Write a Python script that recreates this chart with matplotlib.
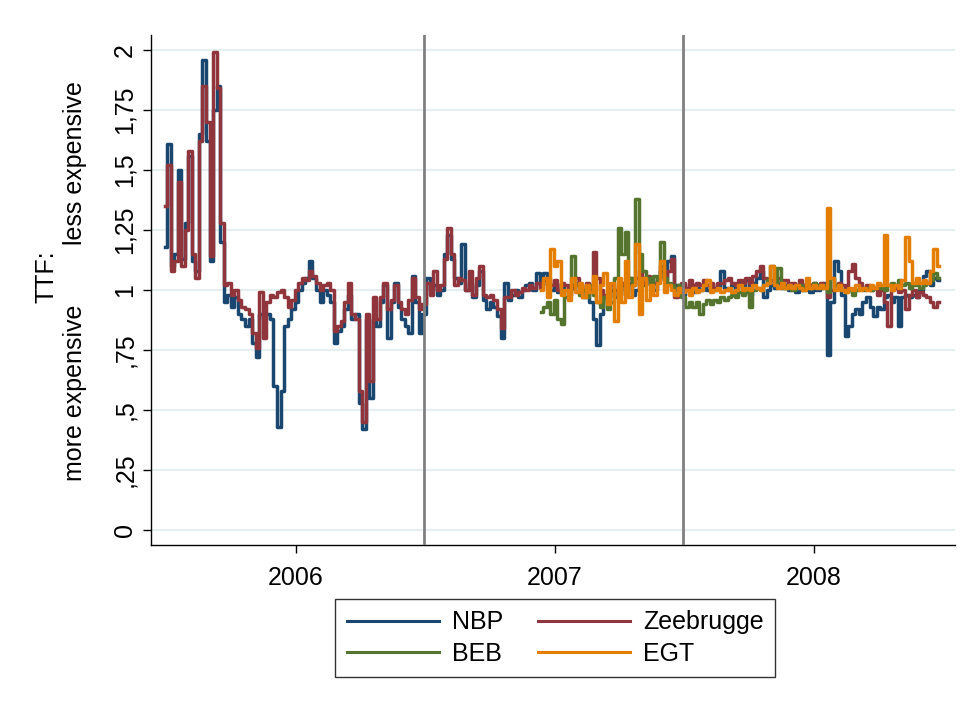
import matplotlib
matplotlib.use("Agg")
import matplotlib.pyplot as plt
import pandas as pd

plt.rcParams['font.family'] = ['Liberation Sans', 'DejaVu Sans']

# ---- data (ratio of hub price to TTF), 5-day sampling ----
start_all = "2005-07-01"
start_new = "2006-12-13"

nbp = [
 1.18, 1.61, 1.10, 1.15, 1.50, 1.13, 1.28, 1.56, 1.12, 1.08,
 1.65, 1.96, 1.62, 1.12, 1.75, 1.85, 1.20, 0.95, 0.98, 0.93,
 0.97, 0.90, 0.88, 0.85, 0.88, 0.78, 0.72, 0.90, 0.88, 0.90,
 0.88, 0.60, 0.43, 0.58, 0.85, 0.88, 0.92, 0.95, 1.00, 1.03,
 1.05, 1.12, 1.05, 1.00, 0.95, 1.00, 0.98, 0.95, 0.78, 0.83,
 0.85, 0.92, 0.98, 0.88, 0.90, 0.53, 0.42, 0.88, 0.55, 0.88,
 0.85, 0.95, 1.02, 0.80, 0.95, 1.03, 0.93, 0.88, 0.85, 0.82,
 1.06, 0.95, 0.82, 0.90, 1.05, 1.00, 1.02, 0.98, 1.00, 1.15,
 1.23, 1.13, 1.05, 1.03, 1.19, 1.00, 1.03, 0.97, 1.02, 1.08,
 0.96, 0.92, 0.95, 0.93, 0.89, 0.80, 1.03, 0.96, 0.98, 1.00,
 0.97, 1.00, 1.02, 1.03, 1.00, 1.07, 1.02, 1.07, 1.02, 1.00,
 1.03, 0.99, 1.02, 1.00, 0.98, 1.01, 1.03, 1.00, 0.97, 1.02,
 0.95, 0.88, 0.77, 0.90, 0.97, 0.95, 1.00, 0.97, 1.00, 1.02,
 0.98, 1.03, 0.98, 1.00, 1.05, 1.02, 1.05, 1.02, 1.00, 1.04,
 1.08, 1.05, 1.12, 1.14, 1.02, 1.00, 0.98, 1.00, 1.02, 0.99,
 1.01, 1.00, 1.03, 1.00, 1.02, 1.00, 1.01, 1.08, 1.01, 1.00,
 1.02, 1.00, 1.03, 1.01, 1.04, 0.98, 1.03, 1.05, 1.08, 0.97,
 1.00, 1.02, 1.01, 1.03, 1.01, 1.02, 1.00, 1.01, 0.99, 1.02,
 1.00, 1.01, 0.99, 1.01, 1.00, 1.02, 1.03, 0.73, 0.95, 1.12,
 1.08, 0.98, 0.81, 0.85, 0.90, 0.92, 0.90, 0.95, 0.97, 0.93,
 0.89, 0.93, 0.92, 0.97, 0.98, 0.95, 0.97, 0.85, 0.97, 0.98,
 0.97, 0.98, 0.97, 1.00, 1.06, 1.08, 1.02, 1.05, 1.04,
]

zeebrugge = [
 1.35, 1.52, 1.08, 1.12, 1.45, 1.10, 1.25, 1.58, 1.15, 1.05,
 1.62, 1.85, 1.70, 1.14, 1.99, 1.84, 1.28, 1.02, 1.03, 0.98,
 1.00, 0.96, 0.93, 0.92, 0.90, 0.82, 0.76, 0.99, 0.80, 0.95,
 0.98, 0.97, 0.99, 1.00, 0.97, 0.93, 0.96, 1.00, 1.03, 1.05,
 1.04, 1.08, 1.06, 1.03, 1.00, 1.02, 1.03, 1.00, 0.83, 0.85,
 0.87, 0.95, 1.03, 0.90, 0.88, 0.58, 0.45, 0.90, 0.62, 0.97,
 0.88, 0.97, 1.03, 0.92, 0.96, 1.02, 0.95, 0.92, 0.90, 0.96,
 1.05, 0.97, 0.92, 0.94, 1.03, 0.98, 1.08, 1.00, 1.02, 1.13,
 1.26, 1.15, 1.02, 1.05, 1.04, 1.00, 1.08, 0.98, 1.05, 1.10,
 0.98, 0.97, 0.98, 0.96, 0.92, 0.84, 0.97, 0.97, 1.00, 0.98,
 0.99, 1.01, 1.00, 1.02, 1.01, 1.03, 1.01, 1.04, 1.05, 1.02,
 1.04, 1.00, 1.03, 1.02, 1.00, 1.02, 1.05, 1.02, 1.00, 1.03,
 1.00, 1.16, 1.05, 1.00, 0.98, 0.97, 1.02, 1.00, 0.98, 1.03,
 1.00, 1.05, 1.02, 1.05, 1.08, 1.03, 1.06, 1.02, 1.03, 1.05,
 1.10, 1.04, 1.08, 1.13, 0.97, 1.02, 1.03, 1.01, 1.04, 1.02,
 1.03, 1.02, 1.04, 1.02, 1.03, 1.01, 1.03, 1.03, 1.04, 1.05,
 1.03, 1.02, 1.04, 1.03, 1.05, 1.03, 1.06, 1.08, 1.10, 1.05,
 1.03, 1.04, 1.03, 1.05, 1.03, 1.04, 1.02, 1.03, 1.02, 1.04,
 1.02, 1.03, 1.02, 1.03, 1.02, 1.03, 1.02, 0.97, 1.00, 1.02,
 1.03, 1.02, 1.00, 1.08, 1.11, 1.05, 1.03, 1.01, 1.02, 1.00,
 1.01, 0.98, 1.00, 0.95, 0.85, 1.00, 1.01, 0.99, 1.00, 0.92,
 0.98, 1.00, 0.97, 0.99, 0.98, 0.97, 0.95, 0.93, 0.95,
]

beb = [
 0.91, 0.93, 0.95, 0.90, 0.96, 0.88, 0.86, 0.97, 1.00, 1.14,
 1.02, 0.98, 1.00, 0.97, 1.02, 0.98, 0.95, 0.93, 0.97, 0.92,
 0.95, 1.05, 1.26, 1.15, 1.24, 1.05, 1.02, 1.38, 1.15, 1.08,
 1.05, 1.02, 1.06, 1.04, 1.20, 1.05, 1.03, 1.02, 1.00, 1.02,
 0.97, 0.93, 0.95, 0.93, 0.95, 0.90, 0.94, 0.96, 0.94, 0.96,
 0.95, 0.97, 0.96, 0.97, 0.98, 0.97, 0.99, 0.98, 0.99, 0.93,
 1.00, 1.01, 1.00, 1.02, 1.04, 1.10, 1.03, 1.09, 1.03, 1.01,
 1.02, 1.00, 1.01, 1.02, 1.01, 1.02, 1.01, 1.03, 1.02, 1.01,
 1.02, 0.99, 1.05, 1.02, 1.01, 1.00, 0.99, 1.00, 0.98, 1.00,
 1.01, 1.00, 1.01, 1.00, 1.01, 1.02, 1.01, 1.00, 1.02, 1.03,
 1.02, 1.04, 1.02, 1.03, 1.01, 1.02, 1.03, 1.01, 1.02, 1.03,
 1.04, 1.07, 1.05,
]

egt = [
 1.00, 1.05, 0.97, 1.17, 1.10, 1.12, 0.98, 1.00, 0.96, 1.05,
 0.99, 1.03, 0.97, 1.02, 0.99, 1.06, 0.95, 1.02, 1.07, 0.94,
 1.03, 0.87, 1.05, 0.95, 1.12, 0.97, 1.02, 1.19, 0.90, 1.05,
 0.96, 1.02, 0.98, 1.03, 1.12, 0.99, 1.02, 1.00, 0.98, 1.01,
 0.99, 1.00, 0.98, 1.01, 0.99, 1.00, 1.02, 1.04, 0.99, 1.00,
 1.01, 0.99, 1.00, 1.01, 0.99, 1.00, 1.02, 1.00, 1.01, 1.00,
 1.02, 1.01, 1.00, 1.02, 1.03, 1.10, 1.02, 1.01, 1.03, 1.01,
 1.02, 1.01, 1.02, 1.01, 1.00, 1.05, 1.01, 1.02, 1.01, 1.02,
 1.01, 1.34, 1.05, 1.00, 1.02, 1.00, 0.99, 1.01, 1.00, 1.02,
 1.00, 1.01, 1.00, 1.02, 1.01, 1.03, 1.02, 1.23, 1.02, 1.00,
 1.02, 1.01, 1.04, 1.22, 1.12, 1.03, 1.05, 1.03, 1.04, 1.03,
 1.08, 1.17, 1.10,
]

ytick_vals = [0, 0.25, 0.5, 0.75, 1, 1.25, 1.5, 1.75, 2]
ytick_labels = ["0", ",25", ",5", ",75", "1", "1,25", "1,5", "1,75", "2"]
xtick_dates = ["2006-01-01", "2007-01-01", "2008-01-01"]
xtick_labels = ["2006", "2007", "2008"]
vline_dates = ["2006-07-01", "2007-07-01"]

dates_all = pd.date_range(start_all, periods=len(nbp), freq="5D")
dates_new = pd.date_range(start_new, periods=len(beb), freq="5D")

colors = {"NBP": "#1a476f", "Zeebrugge": "#90353b", "BEB": "#55752f", "EGT": "#e37e00"}

fig = plt.figure(figsize=(9.68, 7.05), dpi=100)
ax = fig.add_axes([0.156, 0.227, 0.8306, 0.7234])

for yv in ytick_vals:
    ax.axhline(yv, color="#e6eff0", lw=1.6, zorder=0)

lw = 2.5
l_nbp, = ax.plot(dates_all, nbp, color=colors["NBP"], lw=lw, drawstyle="steps-mid", label="NBP", zorder=2)
l_zee, = ax.plot(dates_all, zeebrugge, color=colors["Zeebrugge"], lw=lw, drawstyle="steps-mid", label="Zeebrugge", zorder=3)
l_beb, = ax.plot(dates_new, beb, color=colors["BEB"], lw=lw, drawstyle="steps-mid", label="BEB", zorder=4)
l_egt, = ax.plot(dates_new, egt, color=colors["EGT"], lw=lw, drawstyle="steps-mid", label="EGT", zorder=5)

for d in vline_dates:
    ax.axvline(pd.Timestamp(d), color="#808080", lw=2, zorder=6)

ax.set_ylim(-0.0625, 2.0625)
ax.set_xlim(pd.Timestamp("2005-06-11"), pd.Timestamp("2008-07-18"))
ax.set_yticks(ytick_vals)
ax.set_yticklabels(ytick_labels, rotation=90, va="center", fontsize=18)
ax.set_xticks([pd.Timestamp(d) for d in xtick_dates])
ax.set_xticklabels(xtick_labels, fontsize=18)
ax.tick_params(axis="both", direction="out", length=6, width=1, color="black")
ax.tick_params(axis="y", pad=4)
ax.tick_params(axis="x", pad=9)
for s in ["top", "right"]:
    ax.spines[s].set_visible(False)
for s in ["left", "bottom"]:
    ax.spines[s].set_linewidth(1)
    ax.spines[s].set_color("black")

fig.text(46/968, 1 - 277/705, "TTF:", rotation=90, ha="center", va="center", fontsize=18)
fig.text(75/968, 1 - 163/705, "less expensive", rotation=90, ha="center", va="center", fontsize=18)
fig.text(75/968, 1 - 393/705, "more expensive", rotation=90, ha="center", va="center", fontsize=18)

# row-major order: NBP, Zeebrugge / BEB, EGT
handles = [l_nbp, l_beb, l_zee, l_egt]
labels = ["NBP", "BEB", "Zeebrugge", "EGT"]
leg = fig.legend(handles, labels, ncol=2, loc="center", bbox_to_anchor=(555/968, 1 - 638/705),
                 fontsize=18, frameon=True, fancybox=False, edgecolor="black",
                 handlelength=3.7, handletextpad=0.5, columnspacing=1.4, borderpad=0.45,
                 labelspacing=0.3)
leg.get_frame().set_linewidth(1)
for h in leg.get_lines():
    h.set_linewidth(2.2)

fig.savefig("out.png", dpi=100, facecolor="white")
